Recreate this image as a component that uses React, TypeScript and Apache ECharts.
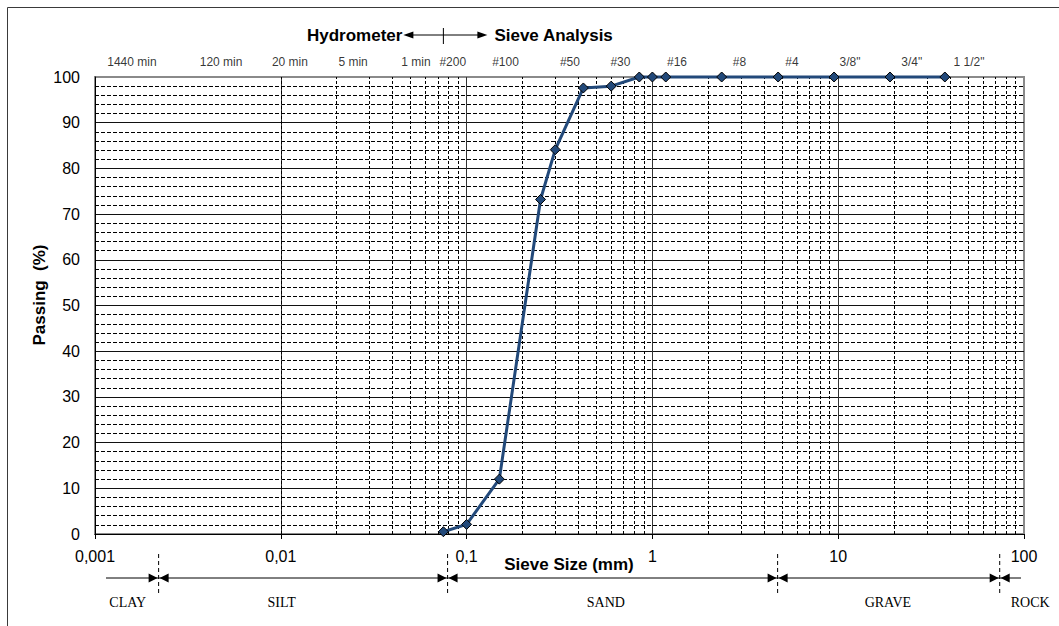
import React, { useEffect, useRef } from "react";
import * as echarts from "echarts";

// Sieve analysis data (mm, % passing)
const sieveSizes = [0.075, 0.1, 0.15, 0.25, 0.3, 0.425, 0.6, 0.85, 1.0, 1.18, 2.36, 4.75, 9.5, 19, 37.5];
const passing = [0.5, 2.1, 12.0, 73.2, 84.1, 97.6, 98.0, 100, 100, 100, 100, 100, 100, 100, 100];

// Labels above the plot (text, position in mm)
const topLabels = ["1440 min", "120 min", "20 min", "5 min", "1 min", "#200", "#100", "#50", "#30", "#16", "#8", "#4", "3/8\"", "3/4\"", "1 1/2\""];
const topLabelSizes = [0.00158, 0.00477, 0.0112, 0.0245, 0.0534, 0.0842, 0.162, 0.36, 0.673, 1.356, 2.94, 5.64, 11.57, 24.9, 50.6];

// Soil classification zones
const zoneBoundaries = [0.0022, 0.079, 4.72, 74];
const zoneNames = ["CLAY", "SILT", "SAND", "GRAVE", "ROCK"];
const zoneLabelSizes = [0.0015, 0.0101, 0.562, 18.5, 108];

// Axis settings
const xMin = 0.001;
const xMax = 100;
const decades = [0.001, 0.01, 0.1, 1, 10];
const minorMultipliers = [2, 3, 4, 5, 6, 7, 8, 9];

const SANS = '"Liberation Sans", Arial, sans-serif';
const SERIF = '"Liberation Serif", "Times New Roman", serif';
const LINE_COLOR = "#22497A";

export default function App() {
  const ref = useRef<HTMLDivElement>(null);

  useEffect(() => {
    if (!ref.current) return;
    const chart = echarts.init(ref.current, undefined, { renderer: "svg" });

    const minorGrid: number[] = [];
    decades.forEach((d) => minorMultipliers.forEach((m) => minorGrid.push(Number((d * m).toPrecision(4)))));

    const option: any = {
      animation: false,
      backgroundColor: "#ffffff",
      grid: {
        left: 95,
        top: 77,
        right: 35,
        bottom: 92,
        show: true,
        borderColor: "#8a8a8a",
        borderWidth: 2,
        backgroundColor: "transparent",
      },
      xAxis: {
        type: "log",
        logBase: 10,
        min: xMin,
        max: xMax,
        axisLine: { show: true, lineStyle: { color: "#000", width: 1 } },
        axisTick: { show: true, length: 5, lineStyle: { color: "#000" } },
        axisLabel: {
          fontSize: 16,
          color: "#000",
          fontFamily: SANS,
          margin: 14,
          formatter: (v: number) => String(Number(v.toPrecision(6))).replace(".", ","),
        },
        splitLine: { show: true, showMinLine: false, showMaxLine: false, lineStyle: { color: "#333", width: 1 } },
      },
      yAxis: {
        type: "value",
        min: 0,
        max: 100,
        interval: 10,
        axisLine: { show: true, lineStyle: { color: "#000", width: 1 } },
        axisTick: { show: false },
        axisLabel: { fontSize: 16, color: "#000", fontFamily: SANS, margin: 15 },
        splitLine: { show: true, showMinLine: false, showMaxLine: false, lineStyle: { color: "#111", width: 1 } },
        minorTick: { show: false, splitNumber: 5 },
        minorSplitLine: { show: true, lineStyle: { color: "#000", width: 1, type: [4, 2] } },
      },
      series: [
        {
          type: "line",
          name: "minorgrid",
          data: [[1, 0]],
          showSymbol: false,
          lineStyle: { opacity: 0 },
          silent: true,
          z: 1,
          markLine: {
            silent: true,
            symbol: ["none", "none"],
            label: { show: false },
            lineStyle: { type: [3, 2], color: "#000", width: 1 },
            emphasis: { disabled: true },
            data: minorGrid.map((v) => ({ xAxis: v })),
          },
        },
        {
          type: "scatter",
          name: "toplabels",
          data: topLabels.map((n, i) => ({ name: n, value: [topLabelSizes[i], 100] })),
          symbolSize: 0,
          silent: true,
          clip: false,
          label: {
            show: true,
            position: "top",
            distance: 9,
            formatter: "{b}",
            fontSize: 12,
            color: "#000",
            fontFamily: SANS,
          },
        },
        {
          type: "line",
          name: "Passing",
          data: sieveSizes.map((s, i) => [s, passing[i]]),
          clip: false,
          symbol: "diamond",
          symbolSize: 10,
          lineStyle: { color: LINE_COLOR, width: 3 },
          itemStyle: { color: LINE_COLOR, borderColor: "#000", borderWidth: 1 },
          z: 5,
        },
      ],
    };

    chart.setOption(option);

    const px = (v: number) => chart.convertToPixel({ xAxisIndex: 0 } as any, v) as unknown as number;

    const g: any[] = [];
    // outer frame
    g.push({
      type: "polyline",
      shape: { points: [[7.5, 700], [7.5, 7.5], [1100, 7.5]] },
      style: { stroke: "#3a3a3a", lineWidth: 1, fill: null },
    });

    // title
    const cx = px(0.075);
    const ty = 35;
    g.push({
      type: "text",
      style: { text: "Hydrometer", x: cx - 41, y: ty, align: "right", verticalAlign: "middle", font: `bold 17px ${SANS}`, fill: "#000" },
    });
    g.push({
      type: "text",
      style: { text: "Sieve Analysis", x: cx + 51, y: ty, align: "left", verticalAlign: "middle", font: `bold 17px ${SANS}`, fill: "#000" },
    });
    g.push({ type: "line", shape: { x1: cx - 34, y1: ty, x2: cx + 36, y2: ty }, style: { stroke: "#000", lineWidth: 1 } });
    g.push({ type: "line", shape: { x1: cx, y1: ty - 7, x2: cx, y2: ty + 9 }, style: { stroke: "#000", lineWidth: 1 } });
    g.push({ type: "polygon", shape: { points: [[cx - 40, ty], [cx - 30, ty - 3.5], [cx - 30, ty + 3.5]] }, style: { fill: "#000" } });
    g.push({ type: "polygon", shape: { points: [[cx + 44, ty], [cx + 34, ty - 3.5], [cx + 34, ty + 3.5]] }, style: { fill: "#000" } });

    // y axis name
    g.push({
      type: "text",
      x: 39,
      y: 295,
      rotation: Math.PI / 2,
      style: { text: "Passing  (%)", x: 0, y: 0, align: "center", verticalAlign: "middle", font: `bold 17px ${SANS}`, fill: "#000" },
    });

    // x axis name
    g.push({
      type: "text",
      style: { text: "Sieve Size (mm)", x: 569, y: 564, align: "center", verticalAlign: "middle", font: `bold 17px ${SANS}`, fill: "#000" },
    });

    // classification zones
    const ay = 578;
    const bx = zoneBoundaries.map(px);
    bx.forEach((x) => {
      g.push({ type: "line", shape: { x1: x, y1: 554, x2: x, y2: 593 }, style: { stroke: "#000", lineWidth: 1, lineDash: [4, 3] } });
    });
    const segs: [number, number, boolean, boolean][] = [
      [106, bx[0], false, true],
      [bx[0], bx[1], true, true],
      [bx[1], bx[2], true, true],
      [bx[2], bx[3], true, true],
      [bx[3], 1021, true, false],
    ];
    segs.forEach(([a, b, la, ra]) => {
      g.push({ type: "line", shape: { x1: a, y1: ay, x2: b, y2: ay }, style: { stroke: "#000", lineWidth: 1 } });
      if (la) g.push({ type: "polygon", shape: { points: [[a + 1, ay], [a + 10, ay - 4.5], [a + 10, ay + 4.5]] }, style: { fill: "#000" } });
      if (ra) g.push({ type: "polygon", shape: { points: [[b - 1, ay], [b - 10, ay - 4.5], [b - 10, ay + 4.5]] }, style: { fill: "#000" } });
    });
    zoneNames.forEach((n, i) => {
      g.push({
        type: "text",
        style: { text: n, x: px(zoneLabelSizes[i]), y: 602, align: "center", verticalAlign: "middle", font: `14px ${SERIF}`, fill: "#000" },
      });
    });

    chart.setOption({ graphic: g });

    return () => chart.dispose();
  }, []);

  return (
    <div style={{ position: "fixed", left: 0, top: 0, width: 1059, height: 626, background: "#fff", overflow: "hidden" }}>
      <div ref={ref} style={{ width: 1059, height: 626 }} />
    </div>
  );
}
